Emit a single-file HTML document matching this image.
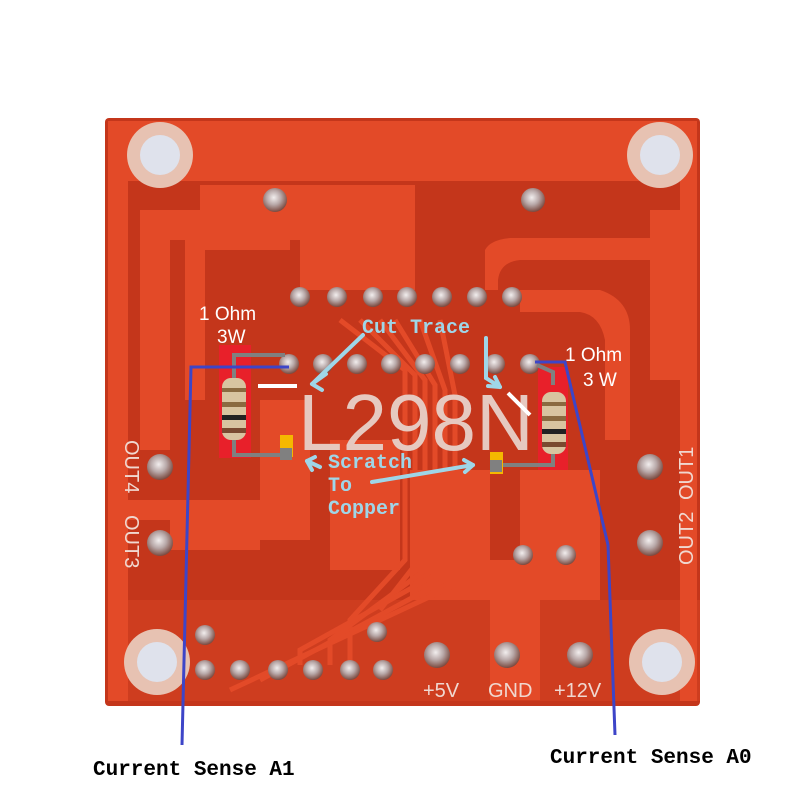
<!DOCTYPE html>
<html><head><style>
html,body{margin:0;padding:0;background:#fff;width:800px;height:800px;overflow:hidden}
</style></head><body>
<svg width="800" height="800" viewBox="0 0 800 800" xmlns="http://www.w3.org/2000/svg">
<defs>
<radialGradient id="pin" cx="0.45" cy="0.4" r="0.6"><stop offset="0" stop-color="#f2eeee"/><stop offset="0.5" stop-color="#b8a8a8"/><stop offset="1" stop-color="#7a4a40"/></radialGradient>
</defs>
<rect width="800" height="800" fill="#fff"/>
<rect x="105" y="118" width="595" height="588" rx="4" fill="#c4361b"/>
<g fill="#e34a28">
<rect x="108" y="121" width="589" height="60"/>
<rect x="108" y="121" width="20" height="580"/>
<rect x="680" y="121" width="17" height="580"/>
<path d="M200 185 H415 V290 H300 V240 H170 V450 H140 V210 H200Z"/>
<path d="M185 230 H290 V250 H205 V400 H185Z"/>
<path d="M485 250 Q490 240 510 238 H650 V260 H520 Q500 262 498 280 V290 H485Z"/>
<path d="M650 210 H697 V380 H650Z"/>
<path d="M520 290 H600 Q630 300 630 330 V440 H605 V340 Q600 315 580 312 H520Z"/>
<path d="M108 500 H260 V550 H170 V520 H108Z"/>
<path d="M520 470 H600 V600 H520Z"/>
<path d="M410 470 H490 V600 H410Z"/>
<path d="M330 440 H400 V570 H330Z"/>
<path d="M490 560 H540 V700 H490Z"/>
<path d="M260 400 H310 V540 H260Z"/>
<path d="M108 600 H700 V701 H108Z" opacity="0.35"/>
</g>
<g stroke="#e34a28" stroke-width="5" fill="none">
<path d="M340 320 L405 370 V560 L350 620 V665"/>
<path d="M360 320 L415 375 V565 L380 610"/>
<path d="M380 320 L425 380 V570 L330 640 V665"/>
<path d="M395 320 L435 385 V575 L300 650 V665"/>
<path d="M420 320 L445 390 V580 L260 680"/>
<path d="M440 320 L455 395 V585 L230 690"/>
</g>
<g>
<circle cx="160" cy="155" r="33" fill="#e7c2b2"/><circle cx="160" cy="155" r="20" fill="#dfe2ec"/>
<circle cx="660" cy="155" r="33" fill="#e7c2b2"/><circle cx="660" cy="155" r="20" fill="#dfe2ec"/>
<circle cx="157" cy="662" r="33" fill="#e7c2b2"/><circle cx="157" cy="662" r="20" fill="#dfe2ec"/>
<circle cx="662" cy="662" r="33" fill="#e7c2b2"/><circle cx="662" cy="662" r="20" fill="#dfe2ec"/>
</g>
<g fill="url(#pin)">
<circle cx="300" cy="297" r="10"/><circle cx="337" cy="297" r="10"/><circle cx="373" cy="297" r="10"/><circle cx="407" cy="297" r="10"/><circle cx="442" cy="297" r="10"/><circle cx="477" cy="297" r="10"/><circle cx="512" cy="297" r="10"/>
<circle cx="289" cy="364" r="10"/><circle cx="323" cy="364" r="10"/><circle cx="357" cy="364" r="10"/><circle cx="391" cy="364" r="10"/><circle cx="425" cy="364" r="10"/><circle cx="460" cy="364" r="10"/><circle cx="495" cy="364" r="10"/><circle cx="530" cy="364" r="10"/>
<circle cx="275" cy="200" r="12"/><circle cx="533" cy="200" r="12"/>
<circle cx="160" cy="467" r="13"/><circle cx="160" cy="543" r="13"/>
<circle cx="650" cy="467" r="13"/><circle cx="650" cy="543" r="13"/>
<circle cx="523" cy="555" r="10"/><circle cx="566" cy="555" r="10"/>
<circle cx="205" cy="635" r="10"/><circle cx="377" cy="632" r="10"/>
<circle cx="205" cy="670" r="10"/><circle cx="240" cy="670" r="10"/><circle cx="278" cy="670" r="10"/><circle cx="313" cy="670" r="10"/><circle cx="350" cy="670" r="10"/><circle cx="383" cy="670" r="10"/>
<circle cx="437" cy="655" r="13"/><circle cx="507" cy="655" r="13"/><circle cx="580" cy="655" r="13"/>
</g>
<text x="298" y="450" font-family="Liberation Sans, sans-serif" font-size="80" fill="#e6c9c0">L298N</text>
<g font-family="Liberation Sans, sans-serif" font-size="20" fill="#f0d8d0">
<text x="423" y="697">+5V</text><text x="488" y="697">GND</text><text x="554" y="697">+12V</text>
<text transform="translate(125,440) rotate(90)">OUT4</text>
<text transform="translate(125,515) rotate(90)">OUT3</text>
<text transform="translate(693,500) rotate(-90)">OUT1</text>
<text transform="translate(693,565) rotate(-90)">OUT2</text>
</g>
<rect x="219" y="345" width="32" height="113" fill="#e8202a"/>
<rect x="538" y="367" width="30" height="103" fill="#e8202a"/>
<g stroke="#808080" stroke-width="4" fill="none">
<path d="M234 380 V355 H285"/><path d="M234 440 V455 H285"/>
<path d="M553 385 V372 L537 365"/><path d="M553 450 V465 H495"/>
</g>
<g>
<rect x="222" y="378" width="24" height="62" rx="9" fill="#d8c4a0"/>
<rect x="222" y="388" width="24" height="4" fill="#8a6a40"/><rect x="222" y="402" width="24" height="5" fill="#8a6a40"/><rect x="222" y="415" width="24" height="5" fill="#222"/><rect x="222" y="428" width="24" height="5" fill="#7a4a30"/>
<rect x="542" y="392" width="24" height="62" rx="9" fill="#d8c4a0"/>
<rect x="542" y="402" width="24" height="4" fill="#8a6a40"/><rect x="542" y="416" width="24" height="5" fill="#8a6a40"/><rect x="542" y="429" width="24" height="5" fill="#222"/><rect x="542" y="442" width="24" height="5" fill="#7a4a30"/>
</g>
<rect x="280" y="435" width="13" height="22" fill="#f5b800"/><rect x="280" y="448" width="12" height="12" fill="#808080"/>
<rect x="490" y="452" width="13" height="22" fill="#f5b800"/><rect x="490" y="460" width="12" height="12" fill="#808080"/>
<line x1="258" y1="386" x2="297" y2="386" stroke="#fff" stroke-width="4"/>
<line x1="508" y1="393" x2="530" y2="415" stroke="#fff" stroke-width="4"/>
<g stroke="#9fd6e8" stroke-width="4" fill="none" stroke-linecap="round">
<path d="M363 335 L312 384"/><path d="M312 384 L326 374 M312 384 L322 390"/>
<path d="M486 338 V378 L500 387"/><path d="M500 387 L488 386 M500 387 L495 377"/>
<path d="M320 467 L307 461"/><path d="M307 461 L315 457 M307 461 L312 470"/>
<path d="M372 482 L473 465"/><path d="M473 465 L464 460 M473 465 L465 472"/>
</g>
<g font-family="Liberation Mono, monospace" font-size="20" font-weight="bold" fill="#9fd6e8">
<text x="362" y="333">Cut Trace</text>
<text x="328" y="468">Scratch</text><text x="328" y="491">To</text><text x="328" y="514">Copper</text>
</g>
<g font-family="Liberation Sans, sans-serif" font-size="19" fill="#fff">
<text x="199" y="320">1 Ohm</text><text x="217" y="343">3W</text>
<text x="565" y="361">1 Ohm</text><text x="583" y="386">3 W</text>
</g>
<g stroke="#3d45c8" stroke-width="3" fill="none">
<path d="M289 367 H191 L182 745"/>
<path d="M535 362 H565 L608 545 L615 735"/>
</g>
<g font-family="Liberation Mono, monospace" font-size="21" font-weight="bold" fill="#000">
<text x="93" y="775">Current Sense A1</text>
<text x="550" y="763">Current Sense A0</text>
</g>
</svg>
</body></html>
